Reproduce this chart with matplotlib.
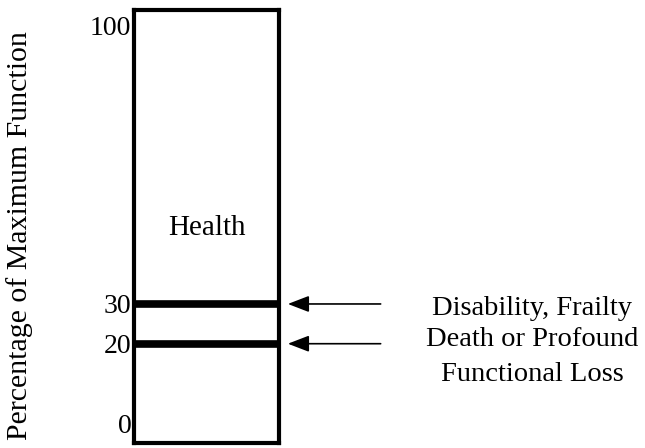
import matplotlib.pyplot as plt

# levels of function (percent of maximum)
tick_vals = [0, 20, 30, 100]
thresholds = [30, 20]
labels = ["Disability, Frailty", "Death or Profound\nFunctional Loss"]
region_label = "Health"

plt.rcParams['font.family'] = ['Liberation Serif', 'DejaVu Serif']

fig = plt.figure(figsize=(6.45, 4.48), dpi=100)
ax = fig.add_axes([0.208, 0.011, 0.2248, 0.967])
ax.set_xlim(0, 1)
ax.set_ylim(-5, 104)

for s in ax.spines.values():
    s.set_linewidth(3)
    s.set_color('black')

for t in thresholds:
    ax.axhline(t, color='black', lw=5.5)

ax.set_xticks([])
ax.set_yticks(tick_vals)
ax.set_yticklabels([str(v) for v in tick_vals])
ax.tick_params(axis='y', length=0, pad=2, labelsize=20)

ax.set_ylabel("Percentage of Maximum Function", fontsize=21.5)
ax.yaxis.set_label_coords(-0.70, 0.478)

ax.text(0.5, 49, region_label, ha='center', va='center', fontsize=21)

# arrows
for t in thresholds:
    ax.annotate("", xy=(1.06, t), xytext=(1.70, t), xycoords='data',
                annotation_clip=False,
                arrowprops=dict(arrowstyle='-|>,head_length=1.3,head_width=0.5',
                                color='black', lw=1.2, shrinkA=0, shrinkB=0))

# descriptions, one line each
lines = labels[0].split("\n") + labels[1].split("\n")
line_y = [29.7, 21.7, 13.1]
for y, s in zip(line_y, lines):
    ax.text(2.745, y, s, ha='center', va='center_baseline', fontsize=20.5,
            clip_on=False)

fig.savefig("out.png", dpi=100)
